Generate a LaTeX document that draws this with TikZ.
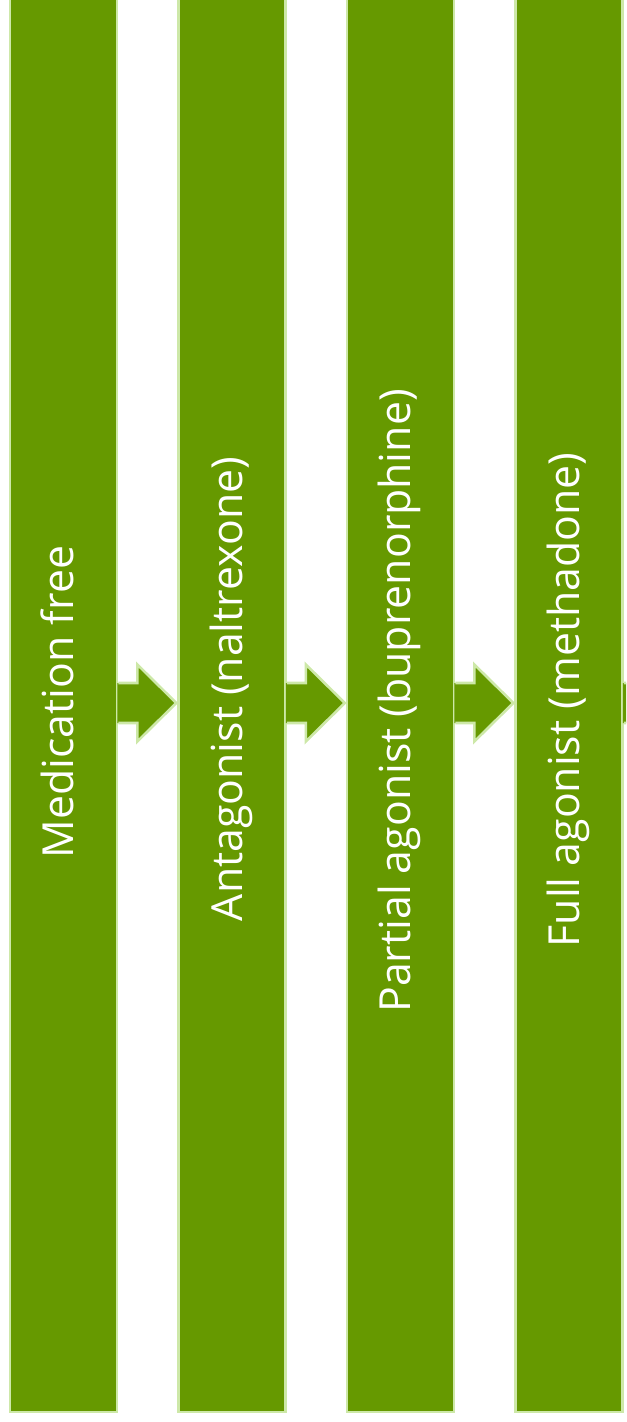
\documentclass[tikz,border=0pt]{standalone}
\usepackage{fontspec}
\setmainfont{Open Sans}
\usetikzlibrary{calc}

\definecolor{barfill}{RGB}{102,153,0}
\definecolor{barline}{RGB}{205,232,168}

\begin{document}
\begin{tikzpicture}[
  x = 0.5pt, y = -0.5pt,
  bar/.style = {rectangle, draw = barline, fill = barfill, line width = 1.3pt,
                minimum width = 53.5pt, minimum height = 709pt, inner sep = 0pt},
  arrowline/.style = {draw = barline, line width = 1.3pt, line join = miter},
  steplabel/.style = {text = white, rotate = 90, anchor = mid,
                      font = \fontsize{21.4}{25}\selectfont}
  ]
  \useasboundingbox (0,0) rectangle (626,1422);
  \clip (0,0) rectangle (626,1422);
  % bars with their arrows
  \foreach \i/\txt/\dy in {0/{Medication free}/-1,
                           1/{Antagonist (naltrexone)}/-14,
                           2/{Partial agonist (buprenorphine)}/-2,
                           3/{Full agonist (methadone)}/-3}
  {
    \node[bar] (b\i) at (63.5+168.5*\i, 703) {};
    \fill[barfill] ($(b\i.east)+(-1,-20)$) -- ++(20,0) -- ++(0,-18.5)
      -- ($(b\i.east)+(58,0)$) -- ($(b\i.east)+(19,38.5)$) -- ++(0,-18.5)
      -- ($(b\i.east)+(-1,20)$) -- cycle;
    \draw[arrowline] ($(b\i.east)+(0,-20)$) -- ++(19,0) -- ++(0,-18.5)
      -- ($(b\i.east)+(58,0)$) -- ($(b\i.east)+(19,38.5)$) -- ++(0,-18.5)
      -- ($(b\i.east)+(0,20)$);
    \node[steplabel] (t\i) at ($(b\i.center)+(5,\dy)$) {\txt};
  }
\end{tikzpicture}
\end{document}
